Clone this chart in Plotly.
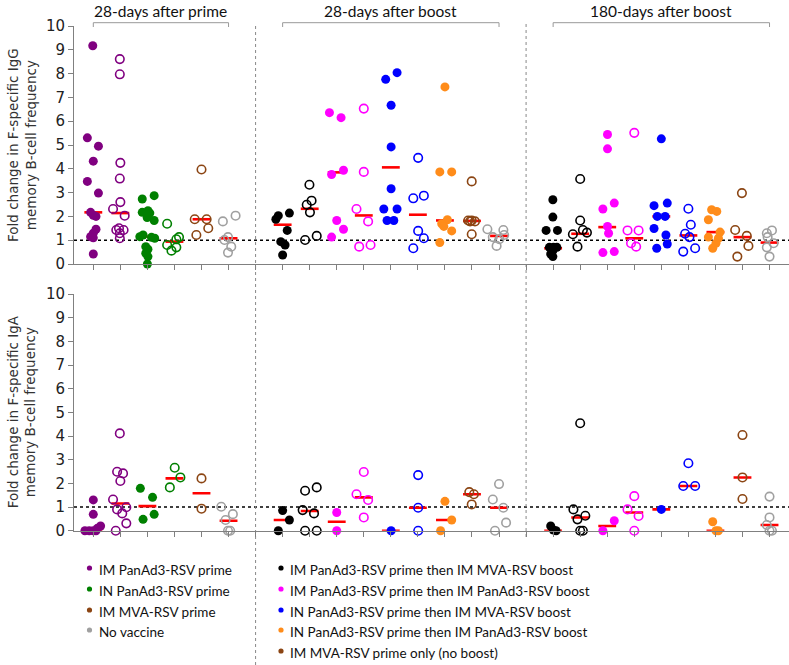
import plotly.graph_objects as go

W, H = 789, 665

# ---------------- data ----------------
POSITIONS = [1, 2, 3, 4, 5, 6,
             8, 9, 10, 11, 12, 13, 14, 15, 16,
             18, 19, 20, 21, 22, 23, 24, 25, 26]

GROUP_COLORS = ["#800080", "#800080", "#008000", "#008000", "#8B4513", "#A0A0A0",
                "#000000", "#000000", "#FF00FF", "#FF00FF", "#0000FF", "#0000FF", "#FF8C1A", "#8B4513", "#A0A0A0",
                "#000000", "#000000", "#FF00FF", "#FF00FF", "#0000FF", "#0000FF", "#FF8C1A", "#8B4513", "#A0A0A0"]
GROUP_FILLED = [True, False, True, False, False, False,
                True, False, True, False, True, False, True, False, False,
                True, False, True, False, True, False, True, False, False]

IGG_VALUES = [
    [9.17, 5.30, 4.95, 4.32, 3.47, 2.98, 2.17, 2.05, 2.00, 1.46, 1.29, 1.15, 1.10, 0.42],
    [8.61, 7.97, 4.25, 3.59, 2.60, 2.31, 2.03, 1.50, 1.43, 1.43, 1.29, 1.08],
    [2.87, 2.73, 2.24, 2.17, 2.14, 1.83, 1.95, 1.22, 1.15, 1.12, 1.08, 0.73, 0.62, 0.45, 0.31, 0.00],
    [1.69, 1.13, 1.04, 0.80, 0.70, 0.56],
    [3.97, 1.88, 1.88, 1.50, 1.22],
    [2.03, 1.79, 1.13, 1.01, 0.73, 0.48],
    [2.14, 2.03, 1.88, 1.41, 0.94, 0.80, 0.38],
    [3.33, 2.66, 2.49, 2.17, 1.18, 1.01],
    [6.36, 6.15, 3.94, 3.76, 1.83, 1.46, 1.13],
    [6.53, 3.87, 2.31, 1.79, 0.73, 0.80],
    [8.04, 7.76, 6.67, 4.92, 3.16, 2.31, 2.31, 1.83, 1.83],
    [4.46, 2.76, 2.87, 1.39, 1.08, 0.66],
    [7.44, 3.87, 3.87, 1.86, 1.69, 1.58, 1.39, 0.90],
    [3.47, 1.83, 1.83, 1.79, 1.79, 1.25],
    [1.46, 1.43, 1.13, 1.22, 1.04, 0.76],
    [2.70, 1.97, 1.41, 1.41, 0.70, 0.70, 0.70, 0.56, 0.31, 0.42],
    [3.57, 1.83, 1.25, 1.32, 1.43, 0.73],
    [5.44, 4.84, 2.56, 2.31, 1.58, 1.29, 0.48, 0.52],
    [5.51, 1.41, 1.41, 0.87, 0.73],
    [5.26, 2.45, 2.56, 2.00, 2.00, 1.49, 1.22, 0.84, 0.66],
    [2.32, 1.65, 1.27, 1.13, 0.66, 0.52],
    [2.28, 2.21, 1.86, 1.34, 1.13, 1.08, 0.87, 0.66],
    [2.98, 1.43, 1.18, 0.76, 0.31],
    [1.41, 1.29, 1.13, 0.87, 0.70, 0.31],
]
IGG_JITTER = [
    [-0.02, -0.22, 0.19, 0.00, -0.22, 0.19, -0.10, 0.00, 0.10, 0.10, 0.00, -0.10, 0.00, 0.00],
    [-0.02, -0.02, 0.00, -0.02, 0.00, -0.27, 0.16, -0.05, 0.12, -0.15, -0.02, -0.02],
    [0.25, -0.19, 0.02, -0.19, 0.09, 0.25, -0.01, -0.16, -0.28, 0.15, 0.27, -0.06, 0.02, -0.06, 0.02, 0.00],
    [-0.27, 0.17, 0.07, -0.27, 0.07, -0.11],
    [0.00, -0.25, 0.19, 0.25, -0.19],
    [0.26, -0.21, -0.02, -0.15, 0.10, -0.02],
    [0.25, -0.16, -0.25, 0.17, -0.07, 0.09, 0.00],
    [-0.01, 0.07, -0.11, 0.01, 0.26, -0.17],
    [-0.27, 0.16, 0.25, -0.19, 0.00, 0.25, -0.19],
    [0.00, 0.00, -0.27, 0.16, -0.17, 0.25],
    [0.23, -0.19, 0.01, 0.01, 0.01, -0.26, 0.23, -0.14, 0.11],
    [0.01, -0.17, 0.22, 0.01, 0.22, -0.17],
    [0.00, -0.19, 0.25, 0.09, -0.12, -0.04, 0.25, -0.19],
    [-0.01, -0.14, -0.01, 0.11, -0.07, -0.01],
    [-0.43, 0.16, -0.23, 0.19, 0.01, -0.09],
    [-0.01, -0.01, -0.26, 0.16, -0.14, 0.01, 0.14, -0.01, -0.01, -0.09],
    [0.00, 0.00, -0.27, 0.25, 0.10, -0.10],
    [0.01, 0.01, 0.26, -0.16, 0.01, 0.05, -0.16, 0.26],
    [0.00, -0.25, 0.16, -0.12, 0.07],
    [0.00, -0.27, 0.22, -0.15, 0.14, -0.27, 0.17, 0.22, -0.17],
    [0.00, 0.09, -0.12, 0.04, 0.25, -0.19],
    [-0.14, 0.05, -0.26, 0.17, -0.26, 0.11, 0.02, -0.10],
    [-0.02, -0.27, 0.16, 0.22, -0.19],
    [0.09, -0.10, -0.07, 0.15, -0.10, 0.00],
]
IGG_MEDIAN = [2.17, 2.14, 1.15, 0.94, 1.88, 1.08,
              1.65, 2.32, 3.85, 2.04, 4.06, 2.07, 1.83, 1.81, 1.18,
              0.66, 1.27, 1.55, 1.08, 2.00, 1.20, 1.34, 1.13, 0.90]

IGA_VALUES = [
    [1.30, 0.69, 0.20, 0.10, 0.00, 0.00, 0.00, 0.00],
    [4.11, 2.49, 2.42, 2.10, 1.32, 0.90, 0.99, 0.73, 0.31, 0.00],
    [1.79, 1.41, 0.48, 0.69],
    [2.66, 2.25, 1.83],
    [2.21, 0.93],
    [1.01, 0.70, 0.45, 0.00, 0.00],
    [0.85, 0.45, 0.00],
    [1.83, 1.69, 0.87, 0.73, 0.00, 0.00],
    [0.77, 0.00],
    [2.48, 1.54, 1.30, 0.56],
    [0.00],
    [2.35, 0.97, 0.00],
    [1.24, 0.45, 0.00],
    [1.63, 1.54, 1.11],
    [1.97, 1.32, 0.97, 0.34, 0.00],
    [0.20, 0.03, 0.00],
    [4.54, 0.90, 0.63, 0.48, 0.00, 0.00],
    [0.42, 0.00],
    [1.46, 0.90, 0.62, 0.00],
    [0.90],
    [2.85, 1.89, 1.89],
    [0.38, 0.00, 0.00],
    [4.04, 2.25, 1.34],
    [1.44, 0.56, 0.24, 0.00, 0.00],
]
IGA_JITTER = [
    [0.00, 0.00, 0.27, 0.15, -0.31, -0.15, 0.00, 0.10],
    [-0.02, -0.12, 0.10, 0.00, -0.27, -0.12, 0.22, 0.07, 0.22, -0.17],
    [-0.26, 0.19, -0.16, 0.25],
    [0.01, 0.22, -0.17],
    [0.00, 0.00],
    [-0.27, 0.16, -0.11, -0.02, 0.06],
    [0.00, 0.25, -0.16],
    [0.26, -0.17, -0.26, 0.16, -0.17, 0.26],
    [0.00, 0.00],
    [0.00, -0.27, 0.16, 0.00],
    [0.01],
    [0.01, 0.01, 0.01],
    [0.00, 0.25, -0.16],
    [-0.10, 0.07, -0.01],
    [0.00, -0.23, 0.16, 0.26, -0.15],
    [-0.09, 0.01, 0.11],
    [0.00, -0.25, 0.19, -0.10, 0.00, 0.10],
    [0.26, -0.16],
    [0.00, -0.25, 0.16, 0.00],
    [0.00],
    [0.00, -0.19, 0.25],
    [-0.10, 0.02, 0.11],
    [0.00, 0.00, 0.00],
    [0.00, 0.00, -0.10, 0.00, 0.09],
]
IGA_MEDIAN = [0.00, 1.15, 1.04, 2.21, 1.58, 0.42,
              0.45, 0.83, 0.38, 1.41, 0.00, 0.97, 0.45, 1.54, 0.97,
              0.00, 0.56, 0.20, 0.77, 0.90, 1.89, 0.00, 2.25, 0.24]

SECTION_TITLES = ["28-days after prime", "28-days after boost", "180-days after boost"]
SECTION_SPANS = [(1, 6), (8, 16), (18, 26)]
SEPARATORS = [7, 17]

Y_TITLES = ["Fold change in F-specific IgG<br>memory B-cell frequency",
            "Fold change in F-specific IgA<br>memory B-cell frequency"]
Y_TICKS = list(range(0, 11))

LEGEND_LEFT = ["IM PanAd3-RSV prime", "IN PanAd3-RSV prime", "IM MVA-RSV prime", "No vaccine"]
LEGEND_LEFT_COLORS = ["#800080", "#008000", "#8B4513", "#A0A0A0"]
LEGEND_RIGHT = ["IM PanAd3-RSV prime then IM MVA-RSV boost",
                "IM PanAd3-RSV prime then IM PanAd3-RSV boost",
                "IN PanAd3-RSV prime then IM MVA-RSV boost",
                "IN PanAd3-RSV prime then IM PanAd3-RSV boost",
                "IM MVA-RSV prime only (no boost)"]
LEGEND_RIGHT_COLORS = ["#000000", "#FF00FF", "#0000FF", "#FF8C1A", "#8B4513"]

# ---------------- layout geometry (pixels) ----------------
X_LEFT_PX = 74
X_RANGE = [0.2865, 26.72]
PANELS = [  # (top px for y=10, bottom px for y=0)
    (26, 264),
    (294, 530.7),
]
MED_HALF = 0.33


def py(px):
    return 1 - px / H


def px_x(px):
    return px / W


fig = go.Figure()

for p, (vals_all, jit_all, meds) in enumerate([(IGG_VALUES, IGG_JITTER, IGG_MEDIAN),
                                                (IGA_VALUES, IGA_JITTER, IGA_MEDIAN)]):
    xa = "x" if p == 0 else "x2"
    ya = "y" if p == 0 else "y2"
    # medians (drawn below points)
    mx, my = [], []
    for pos, m in zip(POSITIONS, meds):
        mx += [pos - MED_HALF, pos + MED_HALF, None]
        my += [m, m, None]
    fig.add_trace(go.Scatter(x=mx, y=my, mode="lines", xaxis=xa, yaxis=ya,
                             line=dict(color="#FF0000", width=2.6),
                             hoverinfo="skip", showlegend=False, cliponaxis=False))
    for g, pos in enumerate(POSITIONS):
        vals = vals_all[g]
        jit = jit_all[g]
        xs = [pos + j for j in jit]
        col = GROUP_COLORS[g]
        if GROUP_FILLED[g]:
            marker = dict(size=9, color=col, line=dict(width=0), symbol="circle")
        else:
            marker = dict(size=8.5, color=col, line=dict(width=1.6, color=col),
                          symbol="circle-open")
        fig.add_trace(go.Scatter(x=xs, y=vals, mode="markers", xaxis=xa, yaxis=ya,
                                 marker=marker, showlegend=False, cliponaxis=False,
                                 hoverinfo="y"))

shapes = []
annotations = []

axis_common = dict(range=X_RANGE, domain=[px_x(X_LEFT_PX), 1.0], showgrid=False, zeroline=False,
                   showline=True, linecolor="#808080", linewidth=1, automargin=False,
                   ticks="outside", ticklen=5, tickcolor="#808080",
                   tickvals=list(range(1, 27)), showticklabels=False, fixedrange=True)
yaxis_common = dict(range=[0, 10], showgrid=False, zeroline=False, showline=True,
                    linecolor="#808080", linewidth=1, ticks="outside", ticklen=5,
                    tickcolor="#808080", tickvals=Y_TICKS, automargin=False,
                    tickfont=dict(family="DejaVu Sans", size=15, color="#222222"),
                    fixedrange=True)

layout = dict(
    width=W, height=H, margin=dict(l=0, r=0, t=0, b=0, pad=0, autoexpand=False),
    paper_bgcolor="white", plot_bgcolor="rgba(0,0,0,0)",
    xaxis=dict(anchor="y", **axis_common),
    xaxis2=dict(anchor="y2", **axis_common),
    yaxis=dict(anchor="x", domain=[py(PANELS[0][1]), py(PANELS[0][0])], **yaxis_common),
    yaxis2=dict(anchor="x2", domain=[py(PANELS[1][1]), py(PANELS[1][0])], **yaxis_common),
    showlegend=False,
)

# reference dotted line at y = 1
for ya in ["y", "y2"]:
    shapes.append(dict(type="line", xref="paper", yref=ya, x0=px_x(X_LEFT_PX), x1=1.0,
                       y0=1, y1=1, line=dict(color="black", width=1.5, dash="dot"), layer="below"))

# vertical separators
shapes.append(dict(type="line", xref="x", yref="paper", x0=SEPARATORS[0], x1=SEPARATORS[0],
                   y0=0, y1=py(23), line=dict(color="#888888", width=1, dash="dot"), layer="below"))
shapes.append(dict(type="line", xref="x", yref="paper", x0=SEPARATORS[1], x1=SEPARATORS[1],
                   y0=py(537), y1=py(23), line=dict(color="#888888", width=1, dash="dot"), layer="below"))

# brackets and section titles
for (a, b), title in zip(SECTION_SPANS, SECTION_TITLES):
    shapes.append(dict(type="path", xref="x", yref="paper",
                       path=f"M {a} {py(27)} L {a} {py(22.7)} L {b} {py(22.7)} L {b} {py(27)}",
                       line=dict(color="#999999", width=1)))
    annotations.append(dict(x=(a + b) / 2, xref="x", y=py(11), yref="paper", text=title,
                            showarrow=False, xanchor="center", yanchor="middle",
                            font=dict(family="Lato", size=15.5, color="#111111")))

# y titles
for (top, bot), t in zip(PANELS, Y_TITLES):
    annotations.append(dict(x=px_x(22), xref="paper", y=py((top + bot) / 2), yref="paper",
                            text=t, textangle=-90, showarrow=False, xanchor="center",
                            yanchor="middle",
                            font=dict(family="DejaVu Sans", size=13.5, color="#333333")))

# legend
ROWS = [570, 591, 612, 632, 653]


def legend_col(labels, colors, dot_x, text_x):
    for lab, col, yy in zip(labels, colors, ROWS):
        r = 2.6
        shapes.append(dict(type="circle", xref="paper", yref="paper",
                           x0=px_x(dot_x - r), x1=px_x(dot_x + r),
                           y0=py(yy - 2 + r), y1=py(yy - 2 - r),
                           fillcolor=col, line=dict(width=0)))
        annotations.append(dict(x=px_x(text_x), xref="paper", y=py(yy), yref="paper", text=lab,
                                showarrow=False, xanchor="left", yanchor="middle",
                                font=dict(family="Lato", size=13.5, color="#111111")))


legend_col(LEGEND_LEFT, LEGEND_LEFT_COLORS, 89.5, 97)
legend_col(LEGEND_RIGHT, LEGEND_RIGHT_COLORS, 281, 288)

layout["shapes"] = shapes
layout["annotations"] = annotations
fig.update_layout(**layout)

fig.write_html("out.html", config={"displayModeBar": False, "staticPlot": True},
               post_script="document.body.style.margin='0';document.body.style.padding='0';")
